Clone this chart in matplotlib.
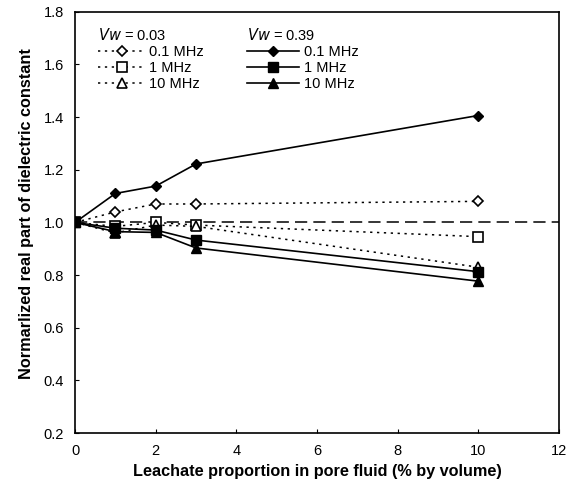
import matplotlib
matplotlib.use("Agg")
import matplotlib.pyplot as plt

plt.rcParams['font.family'] = ['Liberation Sans', 'DejaVu Sans']

leachate = [0, 1, 2, 3, 10]

# Vw = 0.03 (open markers, dotted)
low_01mhz = [1.0, 1.04, 1.07, 1.07, 1.08]
low_1mhz = [1.0, 0.985, 1.0, 0.99, 0.946]
low_10mhz = [1.0, 0.96, 0.99, 0.985, 0.83]

# Vw = 0.39 (filled markers, solid)
high_01mhz = [1.0, 1.11, 1.138, 1.222, 1.406]
high_1mhz = [1.0, 0.978, 0.971, 0.933, 0.813]
high_10mhz = [1.0, 0.965, 0.962, 0.903, 0.777]

freq_labels = ["0.1 MHz", "1 MHz", "10 MHz"]
markers = ["D", "s", "^"]
marker_sizes = [5.5, 7, 7]


def main() -> None:
    fig = plt.figure(figsize=(5.69, 4.91), dpi=100)
    ax = fig.add_axes([0.132, 0.118, 0.85, 0.858])

    dotted = (0, (1.5, 3))
    ax.axhline(1.0, color="black", lw=1.1, linestyle=(0, (8, 4)), zorder=1)

    low_series = [low_01mhz, low_1mhz, low_10mhz]
    high_series = [high_01mhz, high_1mhz, high_10mhz]

    low_handles = []
    for vals, m, ms, lab in zip(low_series, markers, marker_sizes, freq_labels):
        line, = ax.plot(leachate, vals, color="black", lw=1.1, linestyle=dotted,
                        marker=m, ms=ms, mfc="white", mec="black", mew=1.2,
                        label=lab, zorder=2)
        low_handles.append(line)

    high_handles = []
    for vals, m, ms, lab in zip(high_series, markers, marker_sizes, freq_labels):
        line, = ax.plot(leachate, vals, color="black", lw=1.2, linestyle="-",
                        marker=m, ms=ms, mfc="black", mec="black",
                        label=lab, zorder=3)
        high_handles.append(line)

    ax.set_xlim(0, 12)
    ax.set_ylim(0.2, 1.8)
    ax.set_xticks(range(0, 13, 2))
    ax.set_yticks([0.2, 0.4, 0.6, 0.8, 1.0, 1.2, 1.4, 1.6, 1.8])
    ax.set_yticklabels([f"{v:.1f}" for v in ax.get_yticks()])
    ax.tick_params(direction="in", length=3, labelsize=10.5, pad=8)
    for s in ax.spines.values():
        s.set_linewidth(1.2)

    ax.set_xlabel("Leachate proportion in pore fluid (% by volume)",
                  fontsize=11.7, fontweight="bold")
    ax.set_ylabel("Normarlized real part of dielectric constant",
                  fontsize=11.7, fontweight="bold")
    ax.yaxis.set_label_coords(-0.085, 0.52)

    leg1 = ax.legend(handles=low_handles, title="$\\mathit{Vw}$ = 0.03",
                     loc="upper left", bbox_to_anchor=(0.03, 0.985),
                     frameon=False, fontsize=10.5, title_fontsize=10.5,
                     handlelength=3.2, handletextpad=0.3, labelspacing=0.15,
                     borderaxespad=0.2)
    leg1._legend_box.align = "left"
    ax.add_artist(leg1)
    leg2 = ax.legend(handles=high_handles, title="$\\mathit{Vw}$ = 0.39",
                     loc="upper left", bbox_to_anchor=(0.337, 0.985),
                     frameon=False, fontsize=10.5, title_fontsize=10.5,
                     handlelength=3.6, handletextpad=0.3, labelspacing=0.15,
                     borderaxespad=0.2)
    leg2._legend_box.align = "left"

    fig.savefig("out.png", dpi=100)


if __name__ == "__main__":
    main()
